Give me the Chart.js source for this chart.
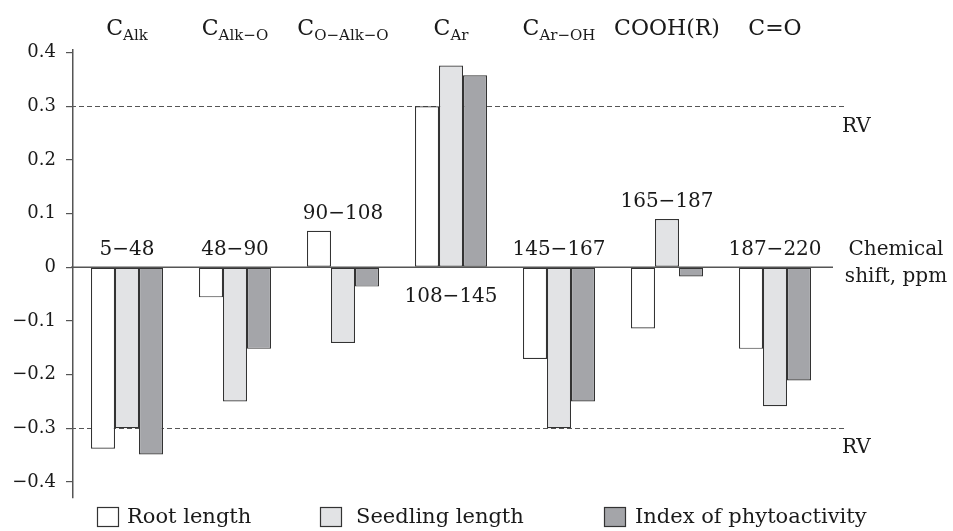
<!DOCTYPE html>
<html><head><meta charset="utf-8">
<script src="https://cdn.jsdelivr.net/npm/chart.js@4.4.1/dist/chart.umd.min.js"></script>
<style>html,body{margin:0;padding:0;background:#fff}canvas{display:block}</style>
</head><body>
<canvas id="c" width="953" height="531"></canvas>
<script>
const groupMain = ['C','C','C','C','C','COOH(R)','C=O'];
const groupSub = ['Alk','Alk\u2212O','O\u2212Alk\u2212O','Ar','Ar\u2212OH','',''];
const shiftRanges = ['5\u221248','48\u221290','90\u2212108','108\u2212145','145\u2212167','165\u2212187','187\u2212220'];
const rootLength = [-0.338,-0.056,0.068,0.300,-0.171,-0.114,-0.152];
const seedlingLength = [-0.300,-0.250,-0.141,0.376,-0.300,0.090,-0.259];
const phytoIndex = [-0.349,-0.152,-0.036,0.358,-0.250,-0.017,-0.211];
const seriesNames = ['Root length','Seedling length','Index of phytoactivity'];
const yTicks = [-0.4,-0.3,-0.2,-0.1,0,0.1,0.2,0.3,0.4];
const referenceValues = [0.3,-0.3];
const rvLabel = 'RV';
const axisTitle = ['Chemical','shift, ppm'];

const FONT = '"DejaVu Serif", "Liberation Serif", serif';
const TXT = '#1a1a1a';
const fills = ['#ffffff','#e2e3e5','#a4a5a9'];
const edge = '#333';

function fmt(v){ if (Math.abs(v)<1e-9) return '0'; return (v<0?'\u2212':'') + Math.abs(v).toFixed(1); }

const decor = {
  id:'decor',
  beforeDatasetsDraw(chart){
    const ctx = chart.ctx, y = chart.scales.y, a = chart.chartArea;
    ctx.save();
    ctx.strokeStyle = '#555'; ctx.lineWidth = 1.2; ctx.setLineDash([5,3]);
    referenceValues.forEach(v=>{
      const py = Math.round(y.getPixelForValue(v))+0.5;
      ctx.beginPath(); ctx.moveTo(a.left-2, py); ctx.lineTo(845, py); ctx.stroke();
    });
    ctx.restore();
  },
  afterDatasetsDraw(chart){
    const ctx = chart.ctx, y = chart.scales.y, x = chart.scales.x, a = chart.chartArea;
    ctx.save();
    const y0 = y.getPixelForValue(0);
    ctx.strokeStyle = '#555'; ctx.lineWidth = 1.5;
    ctx.beginPath(); ctx.moveTo(a.left-2, y0); ctx.lineTo(833, y0); ctx.stroke();
    ctx.fillStyle = TXT;
    groupMain.forEach((m,i)=>{
      const cx = x.getPixelForValue(i);
      ctx.font = '22px ' + FONT;
      const wm = ctx.measureText(m).width;
      ctx.font = '15px ' + FONT;
      const ws = groupSub[i] ? ctx.measureText(groupSub[i]).width : 0;
      const sx = cx - (wm+ws)/2;
      ctx.textAlign = 'left'; ctx.textBaseline = 'alphabetic';
      ctx.font = '22px ' + FONT; ctx.fillText(m, sx, 35);
      if (groupSub[i]) { ctx.font = '15px ' + FONT; ctx.fillText(groupSub[i], sx+wm, 39.5); }
    });
    ctx.font = '20px ' + FONT; ctx.textAlign = 'center'; ctx.textBaseline = 'middle';
    shiftRanges.forEach((r,i)=>{
      const cx = x.getPixelForValue(i);
      const mx = Math.max(rootLength[i], seedlingLength[i], phytoIndex[i]);
      const cy = mx > 0.2 ? y0 + 30 : y.getPixelForValue(Math.max(0,mx)) - 17;
      ctx.fillText(r, cx, cy);
    });
    ctx.font = '20px ' + FONT; ctx.textAlign = 'left';
    referenceValues.forEach(v=>{ ctx.fillText(rvLabel, 842, y.getPixelForValue(v)+20); });
    ctx.textAlign = 'center';
    ctx.fillText(axisTitle[0], 896, y0 - 17);
    ctx.fillText(axisTitle[1], 896, y0 + 10);
    const lx = [97, 320, 604];
    const tx = [127, 356, 635];
    ctx.font = '21px ' + FONT; ctx.textAlign = 'left'; ctx.textBaseline = 'middle';
    chart.data.datasets.forEach((d,i)=>{
      ctx.fillStyle = d.backgroundColor; ctx.strokeStyle = edge; ctx.lineWidth = 1.2;
      ctx.fillRect(lx[i]+0.5, 507.5, 21, 19); ctx.strokeRect(lx[i]+0.5, 507.5, 21, 19);
      ctx.fillStyle = TXT;
      ctx.fillText(d.label, tx[i], 518);
    });
    ctx.restore();
  }
};

new Chart(document.getElementById('c'), {
  type:'bar',
  data:{
    labels: shiftRanges,
    datasets:[
      {label:seriesNames[0], data:rootLength, backgroundColor:fills[0], borderColor:edge, borderWidth:1.2, borderSkipped:false},
      {label:seriesNames[1], data:seedlingLength, backgroundColor:fills[1], borderColor:edge, borderWidth:1.2, borderSkipped:false},
      {label:seriesNames[2], data:phytoIndex, backgroundColor:fills[2], borderColor:edge, borderWidth:1.2, borderSkipped:false}
    ]
  },
  options:{
    responsive:false, animation:false, devicePixelRatio:1,
    layout:{padding:{top:50,bottom:33,left:0,right:124}},
    plugins:{legend:{display:false}, tooltip:{enabled:false}},
    datasets:{bar:{categoryPercentage:0.667, barPercentage:1}},
    scales:{
      x:{display:false},
      y:{
        min:-0.43, max:0.405,
        afterBuildTicks(s){ s.ticks = yTicks.map(v=>({value:v})); },
        afterFit(s){ s.width = 73; },
        grid:{display:true, drawOnChartArea:false, drawTicks:true, tickLength:7, color:'#555', lineWidth:1.2},
        border:{display:true, color:'#555', width:1.5},
        ticks:{padding:10, color:TXT, font:{family:FONT, size:18}, callback:(v)=>fmt(v)}
      }
    }
  },
  plugins:[decor]
});
</script>
</body></html>
